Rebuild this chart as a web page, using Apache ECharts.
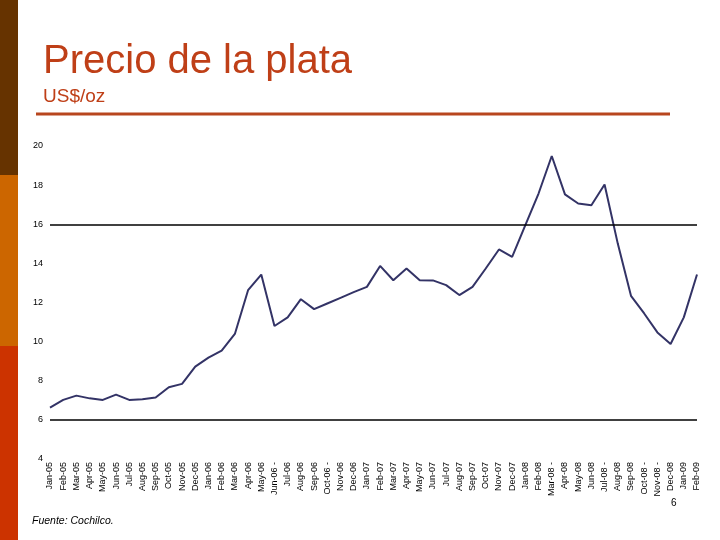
<!DOCTYPE html>
<html>
<head>
<meta charset="utf-8">
<script src="https://cdn.jsdelivr.net/npm/echarts@6/dist/echarts.min.js"></script>
<style>
html,body{margin:0;padding:0;background:#fff;}
#chart{width:720px;height:540px;}
</style>
</head>
<body>
<div id="chart"></div>
<script>
const categories = [
  "Jan-05","Feb-05","Mar-05","Apr-05","May-05","Jun-05","Jul-05","Aug-05","Sep-05","Oct-05","Nov-05","Dec-05",
  "Jan-06","Feb-06","Mar-06","Apr-06","May-06","Jun-06 -","Jul-06","Aug-06","Sep-06","Oct-06 -","Nov-06","Dec-06",
  "Jan-07","Feb-07","Mar-07","Apr-07","May-07","Jun-07","Jul-07","Aug-07","Sep-07","Oct-07","Nov-07","Dec-07",
  "Jan-08","Feb-08","Mar-08 -","Apr-08","May-08","Jun-08","Jul-08 -","Aug-08","Sep-08","Oct-08 -","Nov-08 -","Dec-08",
  "Jan-09","Feb-09"
];
const silverPrice = [
  6.63,7.02,7.24,7.10,7.02,7.29,7.02,7.05,7.14,7.67,7.84,8.72,
  9.18,9.54,10.39,12.63,13.43,10.80,11.24,12.17,11.66,11.95,12.24,12.53,
  12.80,13.87,13.14,13.74,13.14,13.13,12.89,12.38,12.80,13.74,14.71,14.33,
  15.95,17.57,19.49,17.53,17.06,16.97,18.03,15.01,12.34,11.44,10.47,9.88,
  11.24,13.43
];
const yTicks = { min: 4, max: 20, interval: 2 };
const refLines = [6, 16];

const chart = echarts.init(document.getElementById('chart'));
chart.setOption({
  backgroundColor: '#ffffff',
  animation: false,
  textStyle: { fontFamily: 'Liberation Sans, Arial, sans-serif' },
  graphic: [
    { type: 'rect', left: 0, top: 0, shape: { x: 0, y: 0, width: 18, height: 175 }, style: { fill: '#663300' } },
    { type: 'rect', left: 0, top: 175, shape: { x: 0, y: 0, width: 18, height: 171 }, style: { fill: '#CC6600' } },
    { type: 'rect', left: 0, top: 346, shape: { x: 0, y: 0, width: 18, height: 194 }, style: { fill: '#CC3300' } },
    { type: 'line', shape: { x1: 36, y1: 114, x2: 670, y2: 114 }, style: { stroke: '#B8461E', lineWidth: 3 } },
    { type: 'text', left: 43, top: 42, style: { text: 'Precio de la plata', fill: '#BF3F17', font: '40px "Liberation Sans", Arial, sans-serif' } },
    { type: 'text', left: 43, top: 87, style: { text: 'US$/oz', fill: '#BF3F17', font: '19px "Liberation Sans", Arial, sans-serif' } },
    { type: 'text', left: 32, top: 516, style: { text: 'Fuente: Cochilco.', fill: '#000', font: 'italic 10.5px "Liberation Sans", Arial, sans-serif' } },
    { type: 'text', left: 671, top: 498, style: { text: '6', fill: '#000', font: '10px "Liberation Sans", Arial, sans-serif' } }
  ],
  grid: { left: 50, right: 23, top: 146, bottom: 81, containLabel: false },
  xAxis: {
    type: 'category',
    data: categories,
    boundaryGap: false,
    axisLine: { show: false },
    axisTick: { show: false },
    axisLabel: { rotate: 90, interval: 0, fontSize: 9, color: '#000', margin: 3 },
    splitLine: { show: false }
  },
  yAxis: {
    type: 'value',
    min: yTicks.min, max: yTicks.max, interval: yTicks.interval,
    axisLine: { show: false },
    axisTick: { show: false },
    splitLine: { show: false },
    axisLabel: { fontSize: 9, color: '#000', margin: 7 }
  },
  series: [{
    type: 'line',
    data: silverPrice,
    symbol: 'none',
    lineStyle: { color: '#333366', width: 2 },
    markLine: {
      silent: true,
      symbol: 'none',
      label: { show: false },
      lineStyle: { color: '#000', width: 1.5, type: 'solid' },
      data: refLines.map(v => ({ yAxis: v }))
    }
  }]
});
</script>
</body>
</html>
